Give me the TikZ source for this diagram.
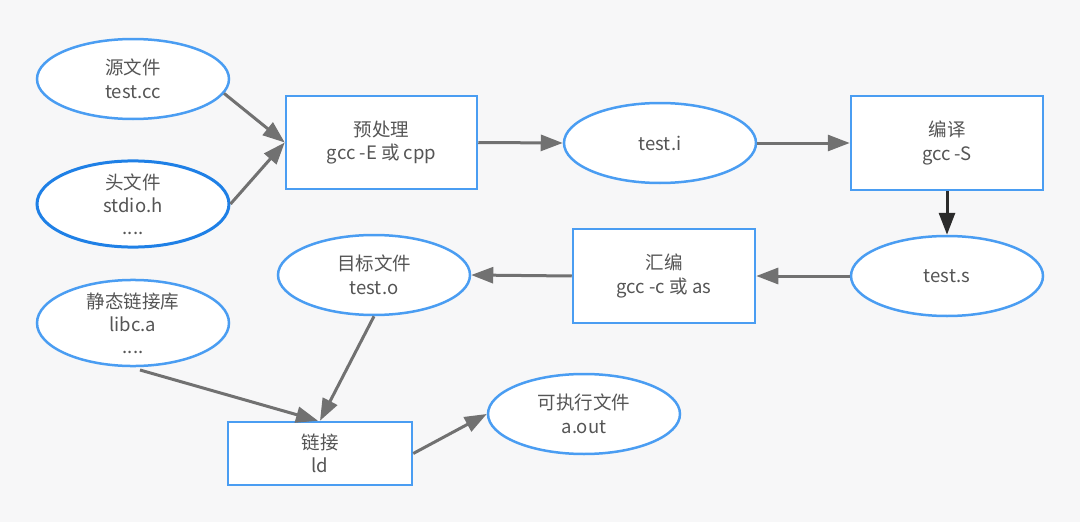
\documentclass[tikz,border=0pt]{standalone}
\usepackage{fontspec}
\setmainfont{Noto Sans CJK SC}
\usetikzlibrary{shapes.geometric,arrows.meta}
\definecolor{bg}{HTML}{F7F7F8}
\definecolor{nodeblue}{HTML}{4A9DF2}
\definecolor{darkblue}{HTML}{1F80E6}
\definecolor{txt}{HTML}{555555}
\definecolor{arr}{HTML}{717171}
\definecolor{darkarr}{HTML}{2B2B2B}
\begin{document}
\begin{tikzpicture}[x=1pt,y=-1pt,
  file/.style={ellipse, draw=nodeblue, line width=2.5pt, fill=white,
    minimum width=192pt, minimum height=80pt, inner sep=0pt, align=center,
    text=txt, font=\fontsize{18.5}{23.5}\selectfont},
  stepbox/.style={rectangle, draw=nodeblue, line width=2.5pt, fill=white,
    inner sep=0pt, align=center, text=txt, font=\fontsize{18.5}{23.5}\selectfont},
  flow/.style={draw=arr, line width=3pt, -{Triangle[length=22pt,width=16pt]}},
  darkflow/.style={draw=darkarr, line width=3pt, -{Triangle[length=22pt,width=16pt]}}
]
\fill[bg] (0,0) rectangle (1080,522);
\useasboundingbox (0,0) rectangle (1080,522);

\node[file] (src) at (133,79) {源文件\\test.cc};
\node[file, draw=darkblue, line width=3pt] (hdr) at (133,204) {头文件\\stdio.h\\[-2pt]....};
\node[stepbox, minimum width=191pt, minimum height=93pt] (pre) at (381.5,142.5) {预处理\\gcc -E 或 cpp};
\node[file] (ti) at (660,143) {test.i};
\node[stepbox, minimum width=192pt, minimum height=94pt] (cc) at (947,143) {编译\\gcc -S};
\node[file] (ts) at (947,276) {test.s};
\node[stepbox, minimum width=182pt, minimum height=94pt] (asm) at (664,276) {汇编\\gcc -c 或 as};
\node[file] (obj) at (374,275) {目标文件\\test.o};
\node[file] (lib) at (133,323) {静态链接库\\libc.a\\[-2pt]....};
\node[stepbox, minimum width=184pt, minimum height=63pt] (ld) at (320,453.5) {链接\\ld};
\node[file] (exe) at (584,414) {可执行文件\\a.out};
\coordinate (libout) at (140,370);

\draw[flow] (src.-9) -- (pre.west);
\draw[flow] (hdr.east) -- (pre.west);
\draw[flow] (pre.east) -- (ti.west);
\draw[flow] (ti.east) -- (cc.west);
\draw[darkflow] (cc.south) -- (ts.north);
\draw[flow] (ts.west) -- (asm.east);
\draw[flow] (asm.west) -- (obj.east);
\draw[flow] (obj.south) -- (ld.north);
\draw[flow] (libout) -- ([xshift=-2pt]ld.north);
\draw[flow] (ld.east) -- (exe.west);
\end{tikzpicture}
\end{document}
